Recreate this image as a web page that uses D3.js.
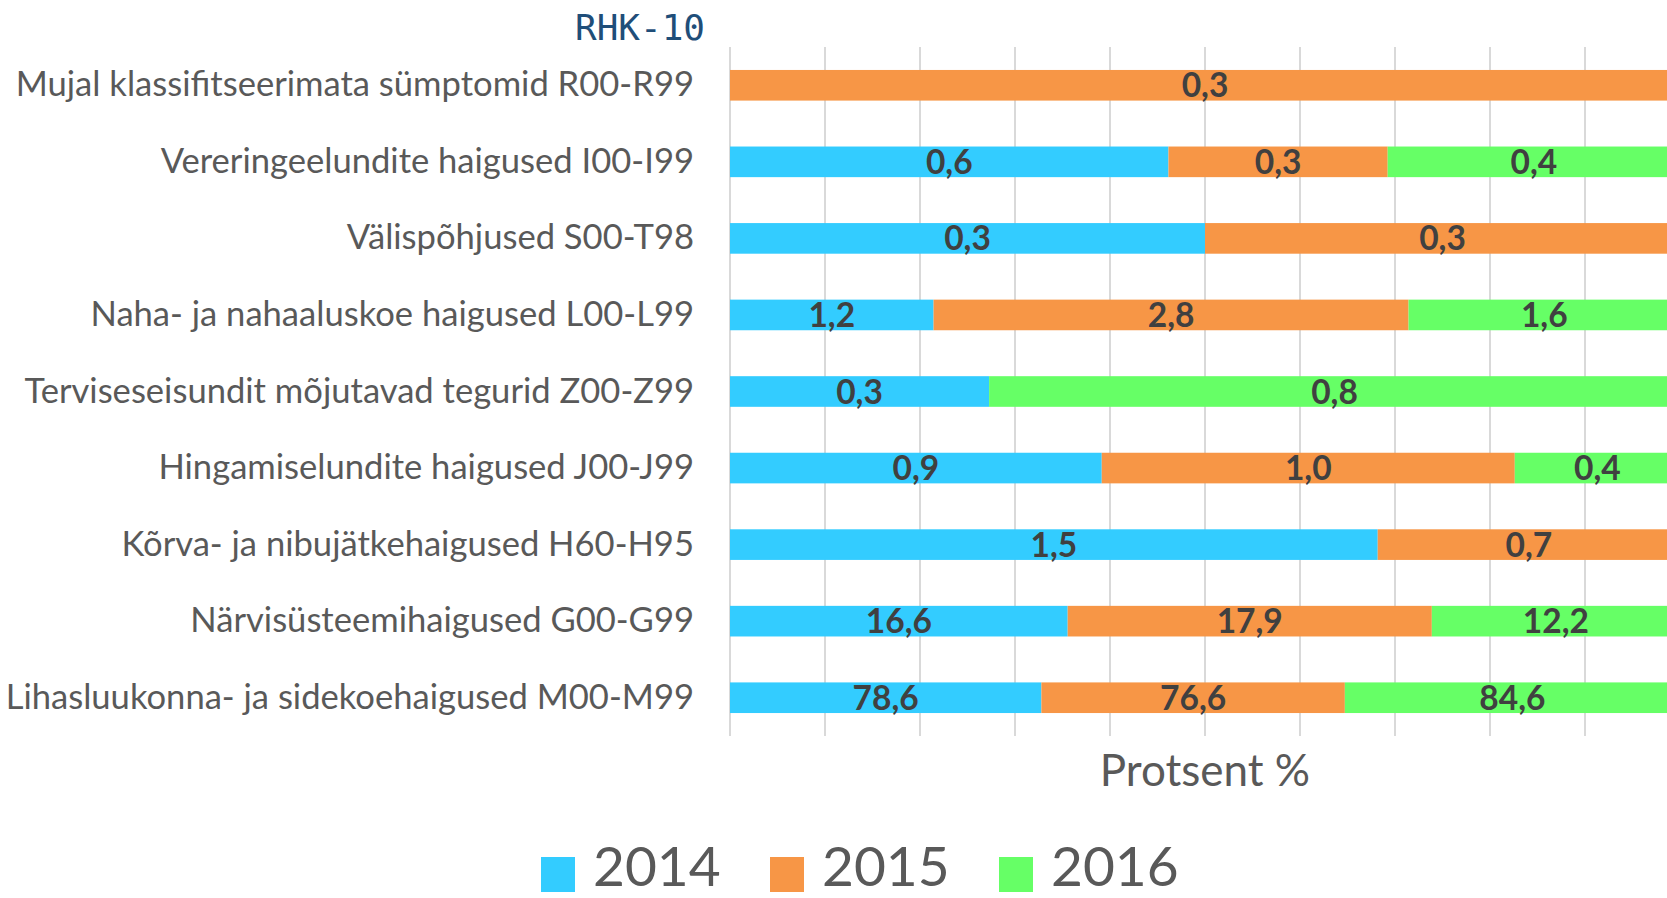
<!DOCTYPE html>
<html>
<head>
<meta charset="utf-8">
<script src="https://cdn.jsdelivr.net/npm/d3@7"></script>
<style>
  html, body { margin: 0; padding: 0; background: #fff; overflow: hidden; }
  svg { display: block; }
</style>
</head>
<body>
<svg id="chart" width="1667" height="898"></svg>
<script>
"use strict";

// categories top to bottom, as drawn
const categories = [
    "Mujal klassifitseerimata sümptomid R00-R99",
    "Vereringeelundite haigused I00-I99",
    "Välispõhjused S00-T98",
    "Naha- ja nahaaluskoe haigused L00-L99",
    "Terviseseisundit mõjutavad tegurid Z00-Z99",
    "Hingamiselundite haigused J00-J99",
    "Kõrva- ja nibujätkehaigused H60-H95",
    "Närvisüsteemihaigused G00-G99",
    "Lihasluukonna- ja sidekoehaigused M00-M99"
];
const years = ["2014", "2015", "2016"];
const values2014 = [0, 0.6, 0.3, 1.2, 0.3, 0.9, 1.5, 16.6, 78.6];
const values2015 = [0.3, 0.3, 0.3, 2.8, 0, 1.0, 0.7, 17.9, 76.6];
const values2016 = [0, 0.4, 0, 1.6, 0.8, 0.4, 0, 12.2, 84.6];
const colors = ["#33CCFF", "#F79646", "#66FF66"];

const width = 1667;
const height = 898;
const plotLeft = 730;
const plotWidth = 950;     // 100 % lies just past the right edge, as in the original
const plotTop = 47;
const plotBottom = 736;

var rows = categories.map((c, i) => ({
    category: c,
    "2014": values2014[i],
    "2015": values2015[i],
    "2016": values2016[i]
}));

var series = d3.stack()
    .keys(years)
    .offset(d3.stackOffsetExpand)(rows);

var svg = d3.select("#chart");

var x = d3.scaleLinear()
    .domain([0, 1])
    .range([plotLeft, plotLeft + plotWidth]);

var y = d3.scaleBand()
    .domain(categories)
    .range([plotTop, plotBottom])
    .paddingInner(0.6)
    .paddingOuter(0.3);

var color = d3.scaleOrdinal().domain(years).range(colors);

var fmt = d3.formatLocale({ decimal: ",", thousands: " ", grouping: [3], currency: ["", ""] }).format(".1f");

// gridlines
svg.append("g")
    .attr("class", "grid")
    .selectAll("line")
    .data(d3.range(0, 1.0001, 0.1))
    .enter()
    .append("line")
        .attr("x1", d => x(d))
        .attr("x2", d => x(d))
        .attr("y1", plotTop)
        .attr("y2", plotBottom)
        .attr("stroke", "#d9d9d9")
        .attr("stroke-width", 2);

// bars
var layer = svg.append("g")
    .selectAll("g")
    .data(series)
    .enter()
    .append("g")
        .attr("fill", d => color(d.key));

layer.selectAll("rect")
    .data(d => d)
    .enter()
    .append("rect")
        .attr("x", d => x(d[0]))
        .attr("y", d => y(d.data.category))
        .attr("width", d => x(d[1]) - x(d[0]))
        .attr("height", y.bandwidth());

// data labels
var labels = svg.append("g");
series.forEach(function(s) {
    labels.selectAll(".lbl-" + s.key)
        .data(s.filter(d => d.data[s.key] > 0))
        .enter()
        .append("text")
            .attr("x", d => x((d[0] + d[1]) / 2))
            .attr("y", d => y(d.data.category) + y.bandwidth() / 2 + 12)
            .attr("text-anchor", "middle")
            .attr("font-family", "Lato, sans-serif")
            .attr("font-weight", "bold")
            .attr("font-size", 33.5)
            .attr("fill", "#404040")
            .text(d => fmt(d.data[s.key]));
});

// category axis (labels only)
var yAxis = svg.append("g")
    .attr("transform", "translate(" + plotLeft + ",0)")
    .call(d3.axisLeft(y).tickSize(0).tickPadding(36));
yAxis.select(".domain").remove();
yAxis.selectAll("text")
    .attr("font-family", "Lato, sans-serif")
    .attr("font-size", 34.6)
    .attr("fill", "#595959");

// titles
svg.append("text")
    .attr("x", 575)
    .attr("y", 40)
    .attr("font-family", "DejaVu Sans Mono, monospace")
    .attr("font-size", 36)
    .attr("fill", "#1F4E79")
    .text("RHK-10");

svg.append("text")
    .attr("x", plotLeft + plotWidth / 2)
    .attr("y", 786)
    .attr("text-anchor", "middle")
    .attr("font-family", "Lato, sans-serif")
    .attr("font-size", 44)
    .attr("fill", "#595959")
    .text("Protsent %");

// legend
var legendX = [541, 770, 999];
var legend = svg.append("g")
    .selectAll("g")
    .data(years)
    .enter()
    .append("g")
        .attr("transform", (d, i) => "translate(" + legendX[i] + ",0)");
legend.append("rect")
    .attr("x", 0)
    .attr("y", 857)
    .attr("width", 34)
    .attr("height", 35)
    .attr("fill", d => color(d));
legend.append("text")
    .attr("x", 52)
    .attr("y", 886)
    .attr("font-family", "Lato, sans-serif")
    .attr("font-size", 55)
    .attr("fill", "#595959")
    .text(d => d);
</script>
</body>
</html>
